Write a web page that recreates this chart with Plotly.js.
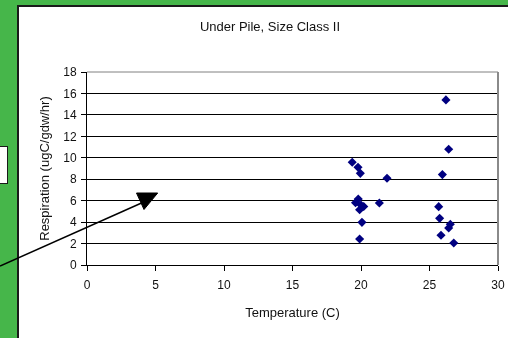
<!DOCTYPE html>
<html>
<head>
<meta charset="utf-8">
<script src="https://cdn.plot.ly/plotly-3.0.1.min.js"></script>
<style>
  html, body { margin: 0; padding: 0; background: #ffffff; overflow: hidden; }
  /* green sheet showing along the top and left edges */
  #greenTop  { position: fixed; left: 0; top: 0; right: 0; height: 5px; background: #46b64a; }
  #greenLeft { position: fixed; left: 0; top: 0; bottom: 0; width: 17px; background: #46b64a; }
  /* dark frame of the white chart panel */
  #frameTop  { position: fixed; left: 17px; top: 5px; right: 0; height: 2px; background: #1a1a1a; }
  #frameLeft { position: fixed; left: 17px; top: 5px; bottom: 0; width: 2px; background: #1a1a1a; }
  /* narrow white box peeking out on the far left */
  #sidebox { position: fixed; left: -4px; top: 146px; width: 12px; height: 38px;
             background: #fff; border: 1.5px solid #1a1a1a; box-sizing: border-box; }
  #chart { position: absolute; left: 0; top: 0; width: 508px; height: 338px; }
</style>
</head>
<body>
<div id="greenTop"></div>
<div id="greenLeft"></div>
<div id="frameTop"></div>
<div id="frameLeft"></div>
<div id="sidebox"></div>
<div id="chart"></div>
<script>
// Respiration measurements under the pile, size class II
const temperatureC = [19.36, 19.78, 19.95, 21.9, 25.94, 26.2, 26.4,
                      19.8, 19.6, 20.0, 20.2, 19.9, 21.34, 20.07, 19.9,
                      25.67, 25.74, 26.52, 26.4, 25.84, 26.77];
const respiration  = [9.58, 9.12, 8.55, 8.09, 8.43, 15.4, 10.8,
                      6.15, 5.8, 5.6, 5.45, 5.15, 5.78, 3.98, 2.43,
                      5.44, 4.35, 3.8, 3.45, 2.77, 2.05];

const xTicks = [0, 5, 10, 15, 20, 25, 30];
const yTicks = [0, 2, 4, 6, 8, 10, 12, 14, 16, 18];

const FONT = 'Liberation Sans, Arial, sans-serif';
const INK = '#111';

const trace = {
  type: 'scatter',
  mode: 'markers',
  x: temperatureC,
  y: respiration,
  marker: { symbol: 'diamond', size: 7, color: '#000080', line: { width: 0 } },
  hoverinfo: 'x+y',
  showlegend: false
};

const layout = {
  width: 508,
  height: 338,
  margin: { l: 87, r: 10, t: 72, b: 73 },
  paper_bgcolor: 'rgba(0,0,0,0)',
  plot_bgcolor: 'rgba(0,0,0,0)',
  font: { family: FONT, size: 12, color: INK },
  title: {
    text: 'Under Pile, Size Class II',
    font: { family: FONT, size: 13, color: INK },
    x: 270 / 508, xanchor: 'center',
    y: 1 - 26 / 338, yanchor: 'middle'
  },
  xaxis: {
    range: [0, 30],
    tickvals: xTicks,
    ticktext: xTicks.map(String),
    showgrid: false,
    zeroline: false,
    showline: true, linecolor: '#000', linewidth: 1,
    ticks: 'outside', ticklen: 5, tickcolor: '#000', tickwidth: 1,
    ticklabelstandoff: 4,
    tickfont: { family: FONT, size: 12, color: INK },
    title: { text: 'Temperature (C)', font: { family: FONT, size: 13, color: INK }, standoff: 16 },
    fixedrange: true
  },
  yaxis: {
    range: [0, 18],
    tickvals: yTicks,
    ticktext: yTicks.map(String),
    showgrid: true, gridcolor: '#000', gridwidth: 1,
    zeroline: false,
    showline: true, linecolor: '#000', linewidth: 1,
    ticks: 'outside', ticklen: 5, tickcolor: '#000', tickwidth: 1,
    ticklabelstandoff: 2,
    tickfont: { family: FONT, size: 12, color: INK },
    title: { text: 'Respiration (ugC/gdw/hr)', font: { family: FONT, size: 13, color: INK }, standoff: 10 },
    fixedrange: true
  },
  shapes: [
    // plot area frame (top and right)
    { type: 'line', xref: 'paper', yref: 'paper', layer: 'above',
      x0: 0, x1: 1, y0: 1, y1: 1, line: { color: '#808080', width: 1 } },
    { type: 'line', xref: 'paper', yref: 'paper', layer: 'above',
      x0: 1, x1: 1, y0: 0, y1: 1, line: { color: '#8a8a8a', width: 2 } },
    // pointer arrow
    { type: 'line', xref: 'paper', yref: 'paper', layer: 'above',
      x0: (0 - 87) / 411, y0: (265 - 266) / 193,
      x1: (146 - 87) / 411, y1: (265 - 201) / 193,
      line: { color: '#000', width: 1.5 } },
    { type: 'path', xref: 'paper', yref: 'paper', layer: 'above',
      path: 'M ' + ((136.5 - 87) / 411) + ' ' + ((265 - 193) / 193) +
            ' L ' + ((157.7 - 87) / 411) + ' ' + ((265 - 193) / 193) +
            ' L ' + ((144 - 87) / 411) + ' ' + ((265 - 209.5) / 193) + ' Z',
      fillcolor: '#000', line: { color: '#000', width: 1 } }
  ]
};

Plotly.newPlot('chart', [trace], layout, { displayModeBar: false, staticPlot: true });
</script>
</body>
</html>
